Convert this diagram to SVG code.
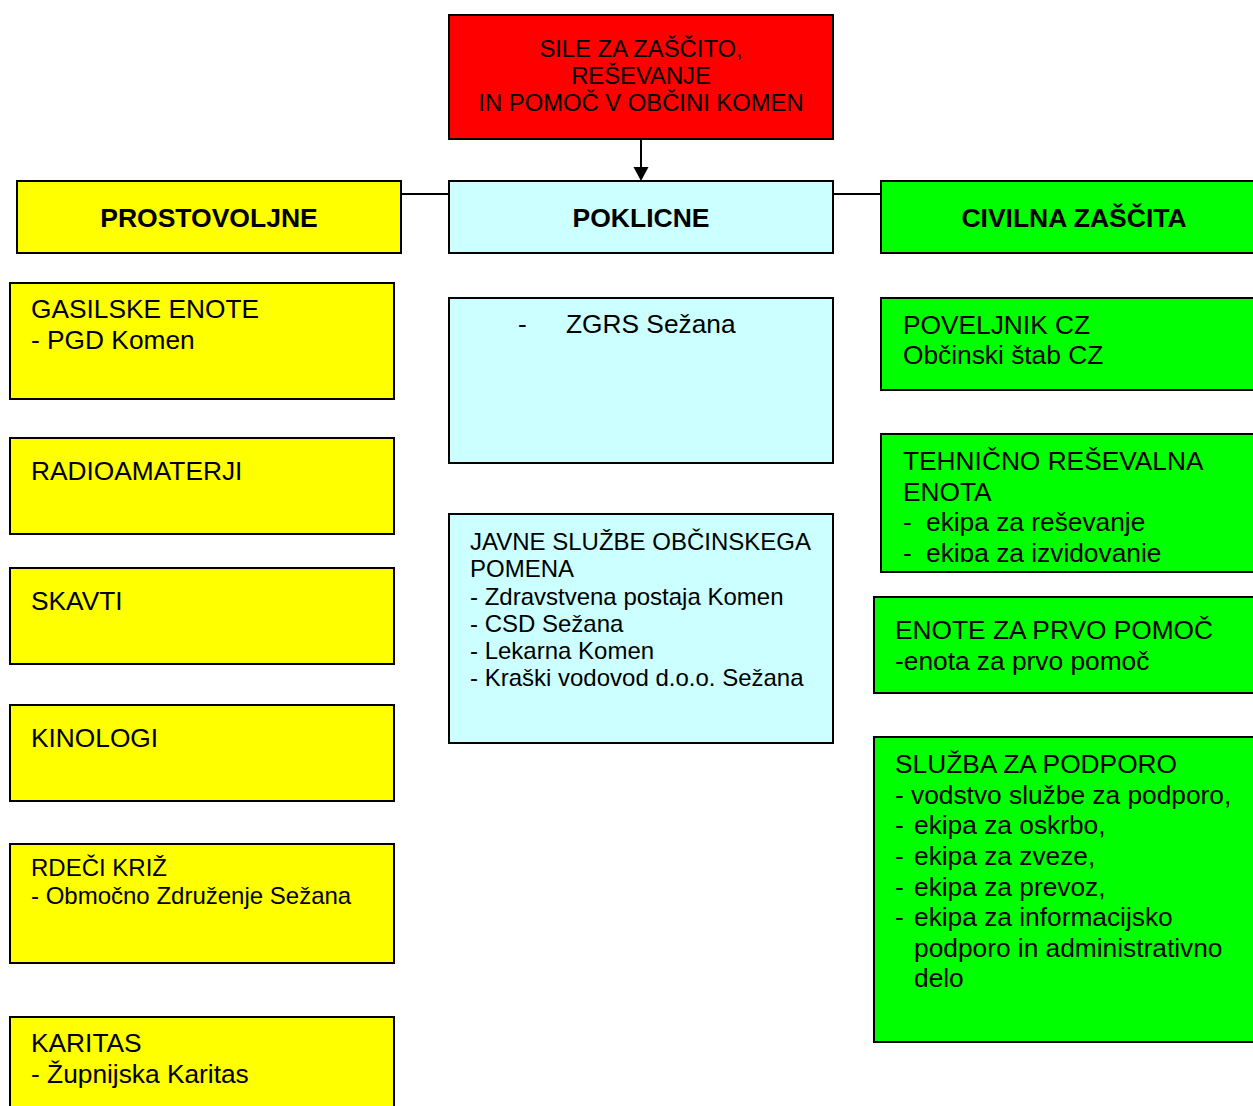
<svg xmlns="http://www.w3.org/2000/svg" width="1253" height="1106" viewBox="0 0 1253 1106">
<defs>
<style>
rect.b{stroke:#000;stroke-width:2}
.y{fill:#ffff00}.c{fill:#ccffff}.g{fill:#00ff00}.r{fill:#ff0000}
text{font-family:"Liberation Sans",Arial,sans-serif;fill:#000}
.t26{font-size:26.3px}.t24{font-size:24px}.t23{font-size:23.8px}
.hb{font-size:26.5px;font-weight:bold;text-anchor:middle}
.ln{stroke:#000;stroke-width:2;fill:none}
</style>
<clipPath id="clipTeh"><rect x="880" y="434" width="380" height="128"/></clipPath>
</defs>

<g id="connectors">
<line class="ln" x1="641" y1="139" x2="641" y2="172"/>
<path d="M633.5,167 L648.5,167 L641,181 z" fill="#000"/>
<line class="ln" x1="401" y1="194" x2="449" y2="194"/>
<line class="ln" x1="833" y1="194" x2="881" y2="194"/>
</g>

<g id="root">
<rect class="b r" x="449" y="15" width="384" height="124"/>
<text class="t23" text-anchor="middle"><tspan x="641" y="57">SILE ZA ZAŠČITO,</tspan><tspan x="641" y="84">REŠEVANJE</tspan><tspan x="641" y="111">IN POMOČ V OBČINI KOMEN</tspan></text>
</g>

<g id="prostovoljne">
<rect class="b y" x="17" y="181" width="384" height="72"/>
<text class="hb" x="209" y="226.5">PROSTOVOLJNE</text>
</g>
<g id="poklicne">
<rect class="b c" x="449" y="181" width="384" height="72"/>
<text class="hb" x="641" y="226.5">POKLICNE</text>
</g>
<g id="civilna">
<rect class="b g" x="881" y="181" width="390" height="72"/>
<text class="hb" x="1074" y="226.5">CIVILNA ZAŠČITA</text>
</g>

<g id="gasilske">
<rect class="b y" x="10" y="283" width="384" height="116"/>
<text class="t26"><tspan x="31" y="318">GASILSKE ENOTE</tspan><tspan x="31" y="348.5">- PGD Komen</tspan></text>
</g>
<g id="radioamaterji">
<rect class="b y" x="10" y="438" width="384" height="96"/>
<text class="t26" x="31" y="480">RADIOAMATERJI</text>
</g>
<g id="skavti">
<rect class="b y" x="10" y="568" width="384" height="96"/>
<text class="t26" x="31" y="610">SKAVTI</text>
</g>
<g id="kinologi">
<rect class="b y" x="10" y="705" width="384" height="96"/>
<text class="t26" x="31" y="747">KINOLOGI</text>
</g>
<g id="rdeci-kriz">
<rect class="b y" x="10" y="844" width="384" height="119"/>
<text class="t24"><tspan x="31" y="876">RDEČI KRIŽ</tspan><tspan x="31" y="903.5">- Območno Združenje Sežana</tspan></text>
</g>
<g id="karitas">
<rect class="b y" x="10" y="1017" width="384" height="100"/>
<text class="t26"><tspan x="31" y="1052">KARITAS</tspan><tspan x="31" y="1082.5">- Župnijska Karitas</tspan></text>
</g>

<g id="zgrs">
<rect class="b c" x="449" y="298" width="384" height="165"/>
<text class="t26"><tspan x="518" y="333">-</tspan><tspan x="566" y="333">ZGRS Sežana</tspan></text>
</g>
<g id="javne">
<rect class="b c" x="449" y="514" width="384" height="229"/>
<text class="t24"><tspan x="470" y="550">JAVNE SLUŽBE OBČINSKEGA</tspan><tspan x="470" y="577">POMENA</tspan><tspan x="470" y="604.5">- Zdravstvena postaja Komen</tspan><tspan x="470" y="631.5">- CSD Sežana</tspan><tspan x="470" y="658.5">- Lekarna Komen</tspan><tspan x="470" y="686">- Kraški vodovod d.o.o. Sežana</tspan></text>
</g>

<g id="poveljnik">
<rect class="b g" x="881" y="298" width="390" height="92"/>
<text class="t26"><tspan x="903" y="334">POVELJNIK CZ</tspan><tspan x="903" y="364">Občinski štab CZ</tspan></text>
</g>
<g id="tehnicno">
<rect class="b g" x="881" y="434" width="390" height="138"/>
<text class="t26" clip-path="url(#clipTeh)"><tspan x="903" y="470">TEHNIČNO REŠEVALNA</tspan><tspan x="903" y="500.5">ENOTA</tspan><tspan x="903" y="531">-</tspan><tspan x="926" y="531">ekipa za reševanje</tspan><tspan x="903" y="561.5">-</tspan><tspan x="926" y="561.5">ekipa za izvidovanje</tspan></text>
</g>
<g id="prva-pomoc">
<rect class="b g" x="874" y="597" width="397" height="96"/>
<text class="t26"><tspan x="895" y="639">ENOTE ZA PRVO POMOČ</tspan><tspan x="895" y="669.5">-enota za prvo pomoč</tspan></text>
</g>
<g id="sluzba">
<rect class="b g" x="874" y="737" width="397" height="305"/>
<text class="t26"><tspan x="895" y="773">SLUŽBA ZA PODPORO</tspan><tspan x="895" y="803.5">- vodstvo službe za podporo,</tspan><tspan x="895" y="834">-</tspan><tspan x="914" y="834">ekipa za oskrbo,</tspan><tspan x="895" y="865">-</tspan><tspan x="914" y="865">ekipa za zveze,</tspan><tspan x="895" y="895.5">-</tspan><tspan x="914" y="895.5">ekipa za prevoz,</tspan><tspan x="895" y="926">-</tspan><tspan x="914" y="926">ekipa za informacijsko</tspan><tspan x="914" y="956.5">podporo in administrativno</tspan><tspan x="914" y="987">delo</tspan></text>
</g>
</svg>
